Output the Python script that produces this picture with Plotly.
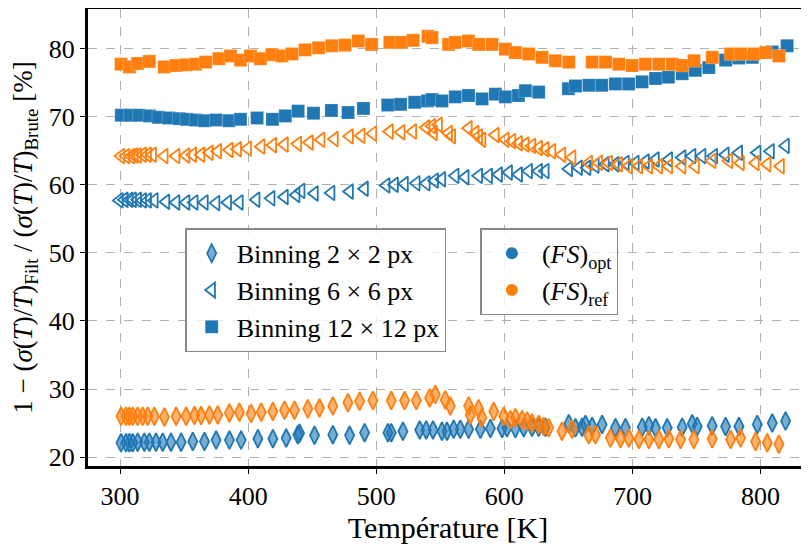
import plotly.graph_objects as go

BLUE = "#1f77b4"
ORANGE = "#ff7f0e"

# ---- Binning 2x2 (diamonds) ----
t_b2_opt = [300.8, 304.7, 307.3, 309.9, 313.8, 319.0, 322.9, 328.1, 333.3, 339.8, 347.7, 356.8, 365.9, 375.0,
            385.4, 394.5, 407.6, 419.3, 429.7, 438.8, 440.1, 451.8, 466.1, 479.2, 490.9, 509.1, 511.7, 520.8,
            533.9, 539.0, 544.3, 551.3, 555.2, 560.4, 565.6, 572.1, 581.3, 589.1, 598.2, 602.1, 608.6, 615.1,
            621.6, 626.8, 632.0, 650.3, 655.5, 660.7, 663.3, 668.5, 676.3, 686.7, 694.5, 707.6, 712.8, 718.0,
            727.1, 738.8, 746.6, 750.5, 762.2, 772.7, 783.1, 797.4, 809.1, 819.5]
v_b2_opt = [22.1, 22.1, 22.1, 22.1, 22.2, 22.2, 22.2, 22.2, 22.2, 22.2, 22.2, 22.3, 22.3, 22.5,
            22.5, 22.5, 22.7, 22.7, 22.8, 23.3, 23.5, 23.2, 23.3, 23.2, 23.6, 23.6, 23.6, 23.8,
            24.0, 24.0, 24.0, 23.8, 23.8, 24.1, 24.1, 24.1, 24.1, 24.2, 24.2, 24.3, 24.2, 24.3,
            24.4, 24.4, 24.4, 24.9, 24.3, 24.4, 24.8, 24.5, 24.8, 24.3, 24.3, 24.4, 24.6, 24.3,
            24.3, 24.4, 24.9, 24.5, 24.6, 24.5, 24.5, 24.8, 25.0, 25.3]

t_b2_ref = [300.8, 304.7, 307.3, 309.9, 313.8, 317.7, 321.6, 326.8, 334.6, 343.8, 351.6, 358.1, 363.3, 369.8,
            376.3, 385.4, 393.2, 402.3, 410.2, 419.3, 428.4, 436.2, 446.6, 455.7, 466.1, 477.9, 487.0, 497.4,
            511.7, 522.1, 531.3, 541.7, 546.1, 553.9, 557.8, 572.1, 573.4, 579.9, 582.4, 591.7, 599.5, 604.7,
            608.6, 613.8, 617.7, 621.6, 626.8, 630.7, 634.6, 645.0, 652.9, 665.9, 671.1, 682.8, 690.6, 697.1,
            705.0, 712.8, 720.6, 728.4, 737.5, 747.9, 762.2, 776.6, 784.4, 796.1, 805.2, 814.3]
v_b2_ref = [26.0, 26.0, 26.0, 26.0, 26.0, 26.0, 26.0, 26.0, 25.9, 26.0, 26.0, 26.1, 26.1, 26.2,
            26.2, 26.5, 26.6, 26.4, 26.6, 26.7, 26.9, 26.9, 27.1, 27.2, 27.5, 28.0, 28.2, 28.3,
            28.3, 28.3, 28.3, 28.7, 29.2, 28.4, 27.5, 27.5, 26.2, 27.1, 25.8, 26.7, 26.0, 25.5,
            25.8, 25.5, 25.3, 25.0, 24.8, 24.5, 24.3, 23.8, 24.1, 23.3, 23.3, 22.8, 22.7, 22.8,
            22.6, 22.6, 22.6, 22.7, 22.6, 22.6, 22.7, 22.6, 22.8, 22.3, 22.1, 21.9]

# ---- Binning 6x6 (left triangles) ----
t_b6_opt = [299.5, 303.4, 307.3, 309.9, 313.8, 317.7, 321.6, 326.8, 335.9, 343.8, 351.6, 358.0, 365.9, 375.0,
            384.1, 393.2, 406.3, 418.0, 428.4, 437.5, 441.4, 451.8, 464.8, 479.2, 490.9, 507.8, 514.3, 522.1,
            531.3, 539.1, 545.6, 551.3, 561.7, 569.5, 580.0, 587.8, 595.6, 603.4, 611.2, 619.0, 626.8, 632.0,
            650.3, 658.0, 664.6, 671.0, 678.9, 686.7, 694.5, 702.3, 710.2, 718.0, 728.4, 738.8, 746.6, 754.4,
            763.5, 772.6, 783.0, 797.4, 807.8, 819.5]
v_b6_opt = [57.7, 57.8, 57.8, 57.8, 57.8, 57.7, 57.7, 57.7, 57.5, 57.4, 57.4, 57.4, 57.4, 57.3,
            57.4, 57.4, 57.8, 58.0, 58.2, 58.5, 59.1, 58.7, 58.8, 59.0, 59.4, 59.9, 60.0, 60.1,
            60.2, 60.2, 60.6, 60.8, 61.3, 61.1, 61.3, 61.3, 61.5, 61.8, 61.5, 62.0, 62.0, 62.0,
            62.3, 62.5, 62.5, 62.8, 63.0, 63.0, 63.2, 63.2, 63.4, 63.7, 63.7, 64.0, 64.2, 64.2,
            64.2, 64.4, 64.7, 64.7, 64.9, 65.7]

t_b6_ref = [300.8, 304.7, 308.6, 311.2, 313.8, 317.7, 321.6, 325.5, 334.6, 343.8, 351.6, 356.8, 363.3, 369.8,
            376.3, 385.4, 391.9, 399.7, 410.2, 419.3, 428.4, 438.8, 447.9, 457.0, 467.4, 479.2, 488.3, 497.4,
            510.4, 519.5, 528.6, 539.0, 543.5, 544.8, 548.7, 556.5, 559.0, 572.0, 577.3, 580.0, 582.6, 593.0,
            600.8, 606.0, 611.2, 616.4, 621.6, 626.8, 632.0, 637.2, 645.0, 652.9, 665.9, 673.7, 681.5, 689.3,
            697.1, 705.0, 712.8, 720.6, 728.4, 738.8, 749.2, 762.2, 775.3, 784.4, 796.0, 805.2, 815.6]
v_b6_ref = [64.2, 64.2, 64.2, 64.3, 64.3, 64.4, 64.4, 64.4, 64.2, 64.2, 64.3, 64.4, 64.4, 64.7,
            64.9, 65.1, 65.2, 65.3, 65.6, 65.8, 65.9, 66.0, 66.2, 66.6, 66.7, 67.1, 67.2, 67.5,
            67.8, 67.7, 67.8, 68.4, 68.6, 67.6, 68.8, 67.6, 67.1, 68.3, 67.6, 67.1, 66.6, 67.3,
            66.6, 66.4, 66.1, 65.9, 65.7, 65.4, 65.2, 64.9, 64.4, 64.0, 63.2, 63.2, 63.2, 63.0,
            62.7, 62.7, 62.7, 62.7, 62.7, 62.7, 62.7, 63.5, 63.5, 63.2, 63.2, 63.0, 62.7]

# ---- Binning 12x12 (squares) ----
t_b12_opt = [301.0, 308.0, 315.0, 323.0, 330.0, 338.0, 346.0, 352.0, 359.0, 366.0, 375.0, 385.0, 394.0, 407.0,
             419.0, 429.0, 439.0, 451.0, 465.0, 478.0, 490.0, 509.0, 519.0, 530.0, 540.0, 543.5, 551.3, 561.7,
             572.0, 582.6, 593.0, 600.8, 611.0, 616.4, 626.8, 650.0, 655.5, 666.0, 676.0, 686.7, 697.0, 707.5,
             718.0, 728.0, 738.8, 749.0, 759.6, 772.7, 783.0, 793.5, 809.0, 820.7]
v_b12_opt = [70.2, 70.2, 70.2, 70.1, 69.9, 69.8, 69.7, 69.6, 69.5, 69.4, 69.5, 69.4, 69.6, 69.8,
             69.6, 70.1, 70.8, 70.5, 70.9, 70.6, 71.2, 71.7, 71.8, 72.1, 72.3, 72.5, 72.3, 72.9,
             73.1, 72.6, 73.3, 72.9, 73.1, 73.8, 73.6, 74.1, 74.5, 74.6, 74.6, 74.8, 74.8, 75.1,
             75.6, 75.8, 76.3, 76.8, 77.2, 78.3, 78.6, 78.7, 79.5, 80.4]

t_b12_ref = [300.8, 307.3, 313.7, 322.8, 334.5, 343.5, 351.3, 359.0, 366.8, 377.2, 386.3, 394.0, 401.8, 409.6,
             418.6, 426.4, 434.2, 444.5, 455.0, 465.3, 475.6, 486.0, 496.4, 510.6, 519.7, 528.8, 540.4, 543.5,
             556.5, 561.7, 572.0, 580.0, 590.4, 600.8, 608.6, 619.0, 629.4, 639.8, 650.3, 668.5, 679.0, 689.4,
             699.7, 710.0, 720.6, 731.0, 738.8, 748.0, 762.3, 776.6, 784.4, 794.8, 804.0, 814.3]
v_b12_ref = [77.7, 77.3, 77.8, 78.1, 77.3, 77.5, 77.6, 77.7, 78.0, 78.5, 78.9, 78.3, 78.9, 78.5,
             79.1, 78.9, 79.2, 79.8, 80.1, 80.4, 80.5, 81.1, 80.6, 80.9, 80.9, 81.2, 81.8, 81.6,
             80.6, 80.9, 81.1, 80.6, 80.6, 79.9, 79.4, 79.2, 78.7, 78.2, 78.0, 78.0, 78.0, 77.7,
             77.5, 77.7, 77.7, 77.7, 77.5, 78.2, 78.7, 79.2, 79.2, 79.2, 79.4, 78.9]

legend1_labels = ["Binning 2 × 2 px", "Binning 6 × 6 px", "Binning 12 × 12 px"]
legend2_labels = ["(<i>FS</i>)<sub>opt</sub>", "(<i>FS</i>)<sub>ref</sub>"]

x_ticks = [300, 400, 500, 600, 700, 800]
y_ticks = [20, 30, 40, 50, 60, 70, 80]

FONT = "Liberation Serif"

def rgba(hexc, a):
    h = hexc.lstrip("#")
    return "rgba(%d,%d,%d,%s)" % (int(h[0:2], 16), int(h[2:4], 16), int(h[4:6], 16), a)

fig = go.Figure()

def add_series(t, v, color, kind, name, show):
    if kind == "diamond":
        marker = dict(symbol="diamond-tall", size=13, color=rgba(color, 0.6),
                      line=dict(color=color, width=1.8))
    elif kind == "tri":
        marker = dict(symbol="triangle-left-open", size=13, color=color,
                      line=dict(color=color, width=1.8))
    else:
        marker = dict(symbol="square", size=13, color=color,
                      line=dict(color=rgba("#ffffff", 0.35), width=0.6))
    fig.add_trace(go.Scatter(x=t, y=v, mode="markers", marker=marker, name=name,
                             showlegend=show, legend="legend"))

add_series(t_b2_opt, v_b2_opt, BLUE, "diamond", legend1_labels[0], True)
add_series(t_b2_ref, v_b2_ref, ORANGE, "diamond", legend1_labels[0], False)
add_series(t_b6_opt, v_b6_opt, BLUE, "tri", legend1_labels[1], True)
add_series(t_b6_ref, v_b6_ref, ORANGE, "tri", legend1_labels[1], False)
add_series(t_b12_opt, v_b12_opt, BLUE, "square", legend1_labels[2], True)
add_series(t_b12_ref, v_b12_ref, ORANGE, "square", legend1_labels[2], False)

for lab, col in zip(legend2_labels, [BLUE, ORANGE]):
    fig.add_trace(go.Scatter(x=[None], y=[None], mode="markers", name=lab,
                             marker=dict(symbol="circle", size=12, color=col),
                             legend="legend2"))

axis_common = dict(
    showline=True, linecolor="black", linewidth=3, mirror=True,
    ticks="outside", ticklen=5, tickwidth=1, tickcolor="black",
    showgrid=True, gridcolor="#b0b0b0", gridwidth=1, griddash="dash",
    zeroline=False, automargin=False,
    tickfont=dict(family=FONT, size=26, color="black"),
)

fig.update_layout(
    width=801, height=538,
    margin=dict(l=80, r=1, t=1, b=80),
    paper_bgcolor="white", plot_bgcolor="white",
    font=dict(family=FONT, color="black"),
    xaxis=dict(range=[275, 837], tickvals=x_ticks, **axis_common,
               title=dict(text="Température [K]", font=dict(family=FONT, size=30), standoff=0)),
    yaxis=dict(range=[18.7, 85.8], tickvals=y_ticks, **axis_common,
               title=dict(text="1 − (<i>σ</i>(<i>T</i>)/<i>T</i>)<sub>Filt</sub> / (<i>σ</i>(<i>T</i>)/<i>T</i>)<sub>Brute</sub> [%]",
                          font=dict(family=FONT, size=27), standoff=10)),
    legend=dict(x=0.135, y=0.52, xanchor="left", yanchor="top",
                bgcolor="rgba(255,255,255,0.8)", bordercolor="#888888", borderwidth=1.5,
                font=dict(family=FONT, size=26, color="black"), itemwidth=40),
    legend2=dict(x=0.545, y=0.52, xanchor="left", yanchor="top",
                 bgcolor="rgba(255,255,255,0.8)", bordercolor="#888888", borderwidth=1.5,
                 font=dict(family=FONT, size=26, color="black"), itemwidth=50),
    showlegend=True,
)

fig.write_html("out.html")
